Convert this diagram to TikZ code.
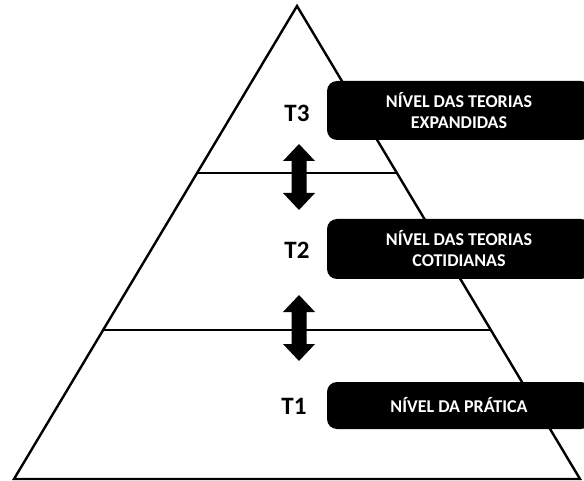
\documentclass[tikz,border=0pt]{standalone}
\usepackage{fontspec}
\setmainfont{Carlito}
\begin{document}
\begin{tikzpicture}[x=1pt,y=-1pt,
  levelbox/.style={fill=black, text=white, rounded corners=10pt, inner sep=0pt,
    minimum width=264pt, align=center, font=\fontsize{18}{21}\selectfont\bfseries},
  tlabel/.style={font=\fontsize{25}{28}\selectfont\bfseries, inner sep=0pt},
  tri/.style={line width=2.4pt, line join=miter},
  sep/.style={line width=1.8pt},
  blockarrow/.style={fill=black}]
\clip (0,0) rectangle (584,481);
\fill[white] (0,0) rectangle (584,481);
% triangle
\coordinate (apex) at (297,6);
\coordinate (bl) at (14,479);
\coordinate (br) at (580,479);
\draw[tri] (apex) -- (br) -- (bl) -- cycle;
% separators
\coordinate (s1l) at (197,173);
\coordinate (s1r) at (397,173);
\coordinate (s2l) at (103,330);
\coordinate (s2r) at (491,330);
\draw[sep] (s1l) -- (s1r);
\draw[sep] (s2l) -- (s2r);
% arrows
\fill[blockarrow] (299,144) -- (315,161) -- (306.5,161) -- (306.5,193) -- (315,193) -- (299,210)
  -- (283,193) -- (291.5,193) -- (291.5,161) -- (283,161) -- cycle;
\fill[blockarrow] (299,295) -- (315,312) -- (306.5,312) -- (306.5,344) -- (315,344) -- (299,361)
  -- (283,344) -- (291.5,344) -- (291.5,312) -- (283,312) -- cycle;
% labels
\node[tlabel] (t3) at (297,113) {T3};
\node[tlabel] (t2) at (297,250) {T2};
\node[tlabel] (t1) at (294,406) {T1};
% boxes
\node[levelbox, minimum height=59pt] (b3) at (459,110.5) {NÍVEL DAS TEORIAS\\EXPANDIDAS};
\node[levelbox, minimum height=60pt] (b2) at (459,249) {NÍVEL DAS TEORIAS\\COTIDIANAS};
\node[levelbox, minimum height=47pt] (b1) at (459,405.5) {NÍVEL DA PRÁTICA};
\end{tikzpicture}
\end{document}
